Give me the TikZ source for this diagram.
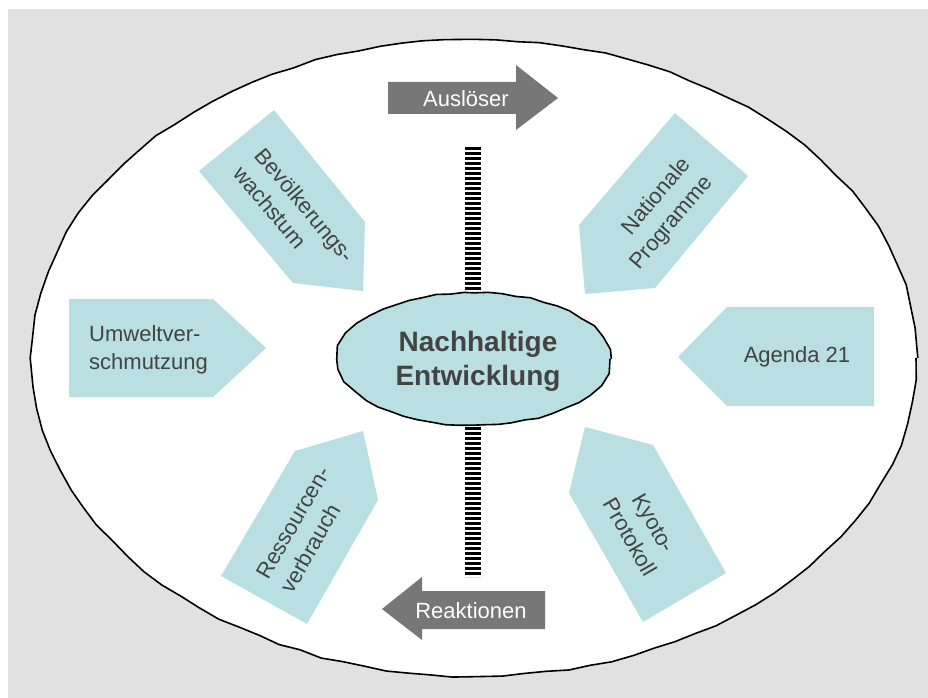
\documentclass[tikz,border=0pt]{standalone}
\usepackage{fontspec}
\setmainfont{Liberation Sans}
\usetikzlibrary{decorations.pathmorphing}
\definecolor{bggray}{HTML}{E1E1E1}
\definecolor{teal}{HTML}{B9DFE3}
\definecolor{arrgray}{HTML}{777777}
\definecolor{txt}{HTML}{434343}
\tikzset{
  pent/.style={fill=teal, draw=none},
  garrow/.style={fill=arrgray, draw=none},
  wobbly/.style={line width=1.6pt, line join=round, decorate,
     decoration={random steps, segment length=22pt, amplitude=1.1pt}},
  lbl/.style={text=txt, inner sep=0pt, font=\fontsize{22}{28}\selectfont},
  wlbl/.style={text=white, inner sep=0pt, font=\fontsize{22}{28}\selectfont},
  ladder/.style={line width=16pt, dash pattern=on 2.6pt off 2.4pt}
}
\begin{document}
\begin{tikzpicture}[x=1pt, y=-1pt]
\pgfmathsetseed{7}
\useasboundingbox (0,0) rectangle (928,698);
\fill[bggray] (8,9) rectangle (928,698);
% outer ellipse
\draw[wobbly, fill=white] (474,358) ellipse [x radius=442, y radius=318];
% pentagons
\fill[pent] (274,110) -- (199,171) -- (293,283) -- (363,291) -- (365,222) -- cycle;
\fill[pent] (675,113) -- (748,176) -- (655,288) -- (585,294) -- (579,225) -- cycle;
\fill[pent] (69,299) -- (213,299) -- (266,348) -- (213,397) -- (69,397) -- cycle;
\fill[pent] (874,307) -- (727,307) -- (678,357) -- (727,406) -- (874,406) -- cycle;
\fill[pent] (363,431) -- (378,500) -- (307,624) -- (221,576) -- (295,451) -- cycle;
\fill[pent] (585,427) -- (653,445) -- (726,573) -- (643,622) -- (569,493) -- cycle;
% ladder
\coordinate (ladtop) at (473,147);
\coordinate (ladbot) at (473,577);
\draw[ladder] (ladtop) -- (ladbot);
% centre ellipse
\draw[wobbly, fill=teal, decoration={random steps, segment length=14pt, amplitude=0.8pt}] (474,359) ellipse [x radius=136, y radius=66];
\node[text=txt, inner sep=0pt, align=center, font=\bfseries\fontsize{28}{34}\selectfont] (centre) at (478,361) {Nachhaltige\\Entwicklung};
% gray arrows
\fill[garrow] (388,82) -- (516,82) -- (516,65) -- (558,98) -- (516,130) -- (516,114) -- (388,114) -- cycle;
\fill[garrow] (545,591) -- (422,591) -- (422,577) -- (382,609) -- (422,640) -- (422,629) -- (545,629) -- cycle;
\node[wlbl] (ausl) at (466,99) {Auslöser};
\node[wlbl] (reak) at (471,611) {Reaktionen};
% labels
\node[lbl, align=left, anchor=west] (umwelt) at (89,350) {Umweltver-\\schmutzung};
\node[lbl] (agenda) at (797,357) {Agenda 21};
\node[lbl, align=left, anchor=west, rotate=-50] (bevoelk) at (249,160) {Bevölkerungs-\\wachstum};
\node[lbl, align=right, anchor=east, rotate=50] (natprog) at (698,170) {Nationale\\Programme};
\node[lbl, align=left, anchor=west, rotate=60] (ressourc) at (274,584) {Ressourcen-\\verbrauch};
\node[lbl, align=center, rotate=-60] (kyoto) at (642,530) {Kyoto-\\Protokoll};
\end{tikzpicture}
\end{document}
